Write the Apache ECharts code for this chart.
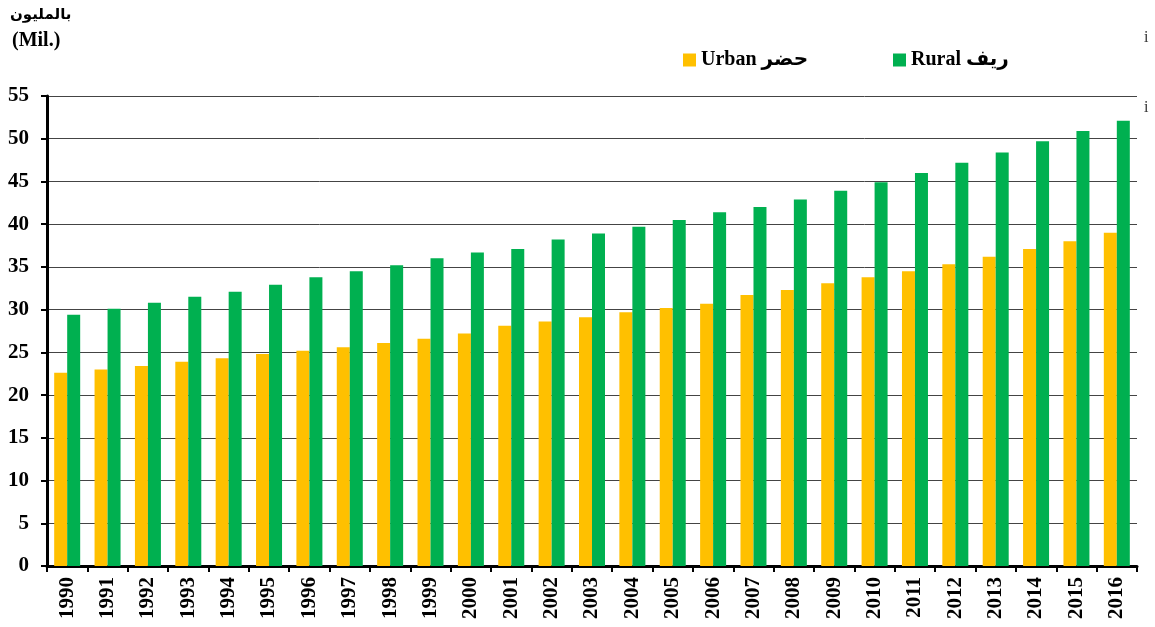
<!DOCTYPE html>
<html>
<head>
<meta charset="utf-8">
<script src="https://cdn.jsdelivr.net/npm/echarts@6/dist/echarts.min.js"></script>
<style>
  html, body { margin: 0; padding: 0; background: #fff; }
  #chart1 { width: 1155px; height: 627px; }
</style>
</head>
<body>
<div id="chart1"></div>
<script>
var years = ['1990','1991','1992','1993','1994','1995','1996','1997','1998','1999','2000','2001','2002','2003','2004','2005','2006','2007','2008','2009','2010','2011','2012','2013','2014','2015','2016'];
// حضر
var urban = [22.6, 23.0, 23.4, 23.9, 24.3, 24.8, 25.2, 25.6, 26.1, 26.6, 27.2, 28.1, 28.6, 29.1, 29.7, 30.2, 30.7, 31.7, 32.3, 33.1, 33.8, 34.5, 35.3, 36.2, 37.1, 38.0, 39.0];
// ريف
var rural = [29.4, 30.1, 30.8, 31.5, 32.1, 32.9, 33.8, 34.5, 35.2, 36.0, 36.7, 37.1, 38.2, 38.9, 39.7, 40.5, 41.4, 42.0, 42.9, 43.9, 44.9, 46.0, 47.2, 48.4, 49.7, 50.9, 52.1];
var yTicks = { min: 0, max: 55, interval: 5 };

var serif = "'Liberation Serif', 'DejaVu Serif', 'DejaVu Sans', serif";

option = {
    animation: false,
    backgroundColor: '#fff',
    grid: {
        left: 47,
        right: 18,
        top: 96,
        bottom: 61
    },
    legend: [{
        data: ['Urban حضر'],
        left: 683, top: 50, padding: 0,
        itemWidth: 13, itemHeight: 13, itemGap: 5,
        icon: 'rect',
        textStyle: { fontFamily: serif, fontWeight: 'bold', fontSize: 20, color: '#000' }
    }, {
        data: ['Rural ريف'],
        left: 893, top: 50, padding: 0,
        itemWidth: 13, itemHeight: 13, itemGap: 5,
        icon: 'rect',
        textStyle: { fontFamily: serif, fontWeight: 'bold', fontSize: 20, color: '#000' }
    }],
    graphic: [{
        type: 'text', left: 10, top: 8,
        style: { text: 'بالمليون', font: 'bold 15px ' + serif, fill: '#000' }
    }, {
        type: 'text', left: 12, top: 31,
        style: { text: '(Mil.)', font: 'bold 20px ' + serif, fill: '#000' }
    }, {
        type: 'text', left: 1144, top: 30,
        style: { text: 'i', font: '16px ' + serif, fill: '#333' }
    }, {
        type: 'text', left: 1144, top: 100,
        style: { text: 'i', font: '16px ' + serif, fill: '#333' }
    }],
    xAxis: {
        type: 'category',
        data: years,
        axisLine: { lineStyle: { color: '#000', width: 3 } },
        axisTick: { show: true, length: 6, lineStyle: { color: '#000', width: 2 } },
        axisLabel: {
            rotate: 90,
            interval: 0,
            margin: 11,
            fontFamily: serif,
            fontWeight: 'bold',
            fontSize: 21,
            color: '#000'
        }
    },
    yAxis: {
        type: 'value',
        min: yTicks.min,
        max: yTicks.max,
        interval: yTicks.interval,
        axisLine: { show: true, lineStyle: { color: '#000', width: 3 } },
        axisTick: { show: true, length: 6, lineStyle: { color: '#000', width: 2 } },
        splitLine: { lineStyle: { color: '#444', width: 1 } },
        axisLabel: {
            margin: 18,
            fontFamily: serif,
            fontWeight: 'bold',
            fontSize: 21,
            color: '#000'
        }
    },
    series: [{
        name: 'Urban حضر',
        type: 'bar',
        data: urban,
        barWidth: 13,
        barGap: '0%',
        itemStyle: { color: '#FFC000' }
    }, {
        name: 'Rural ريف',
        type: 'bar',
        data: rural,
        barWidth: 13,
        barGap: '0%',
        itemStyle: { color: '#00B050' }
    }]
};

var myChart = echarts.init(document.getElementById('chart1'));
myChart.setOption(option);
</script>
</body>
</html>
